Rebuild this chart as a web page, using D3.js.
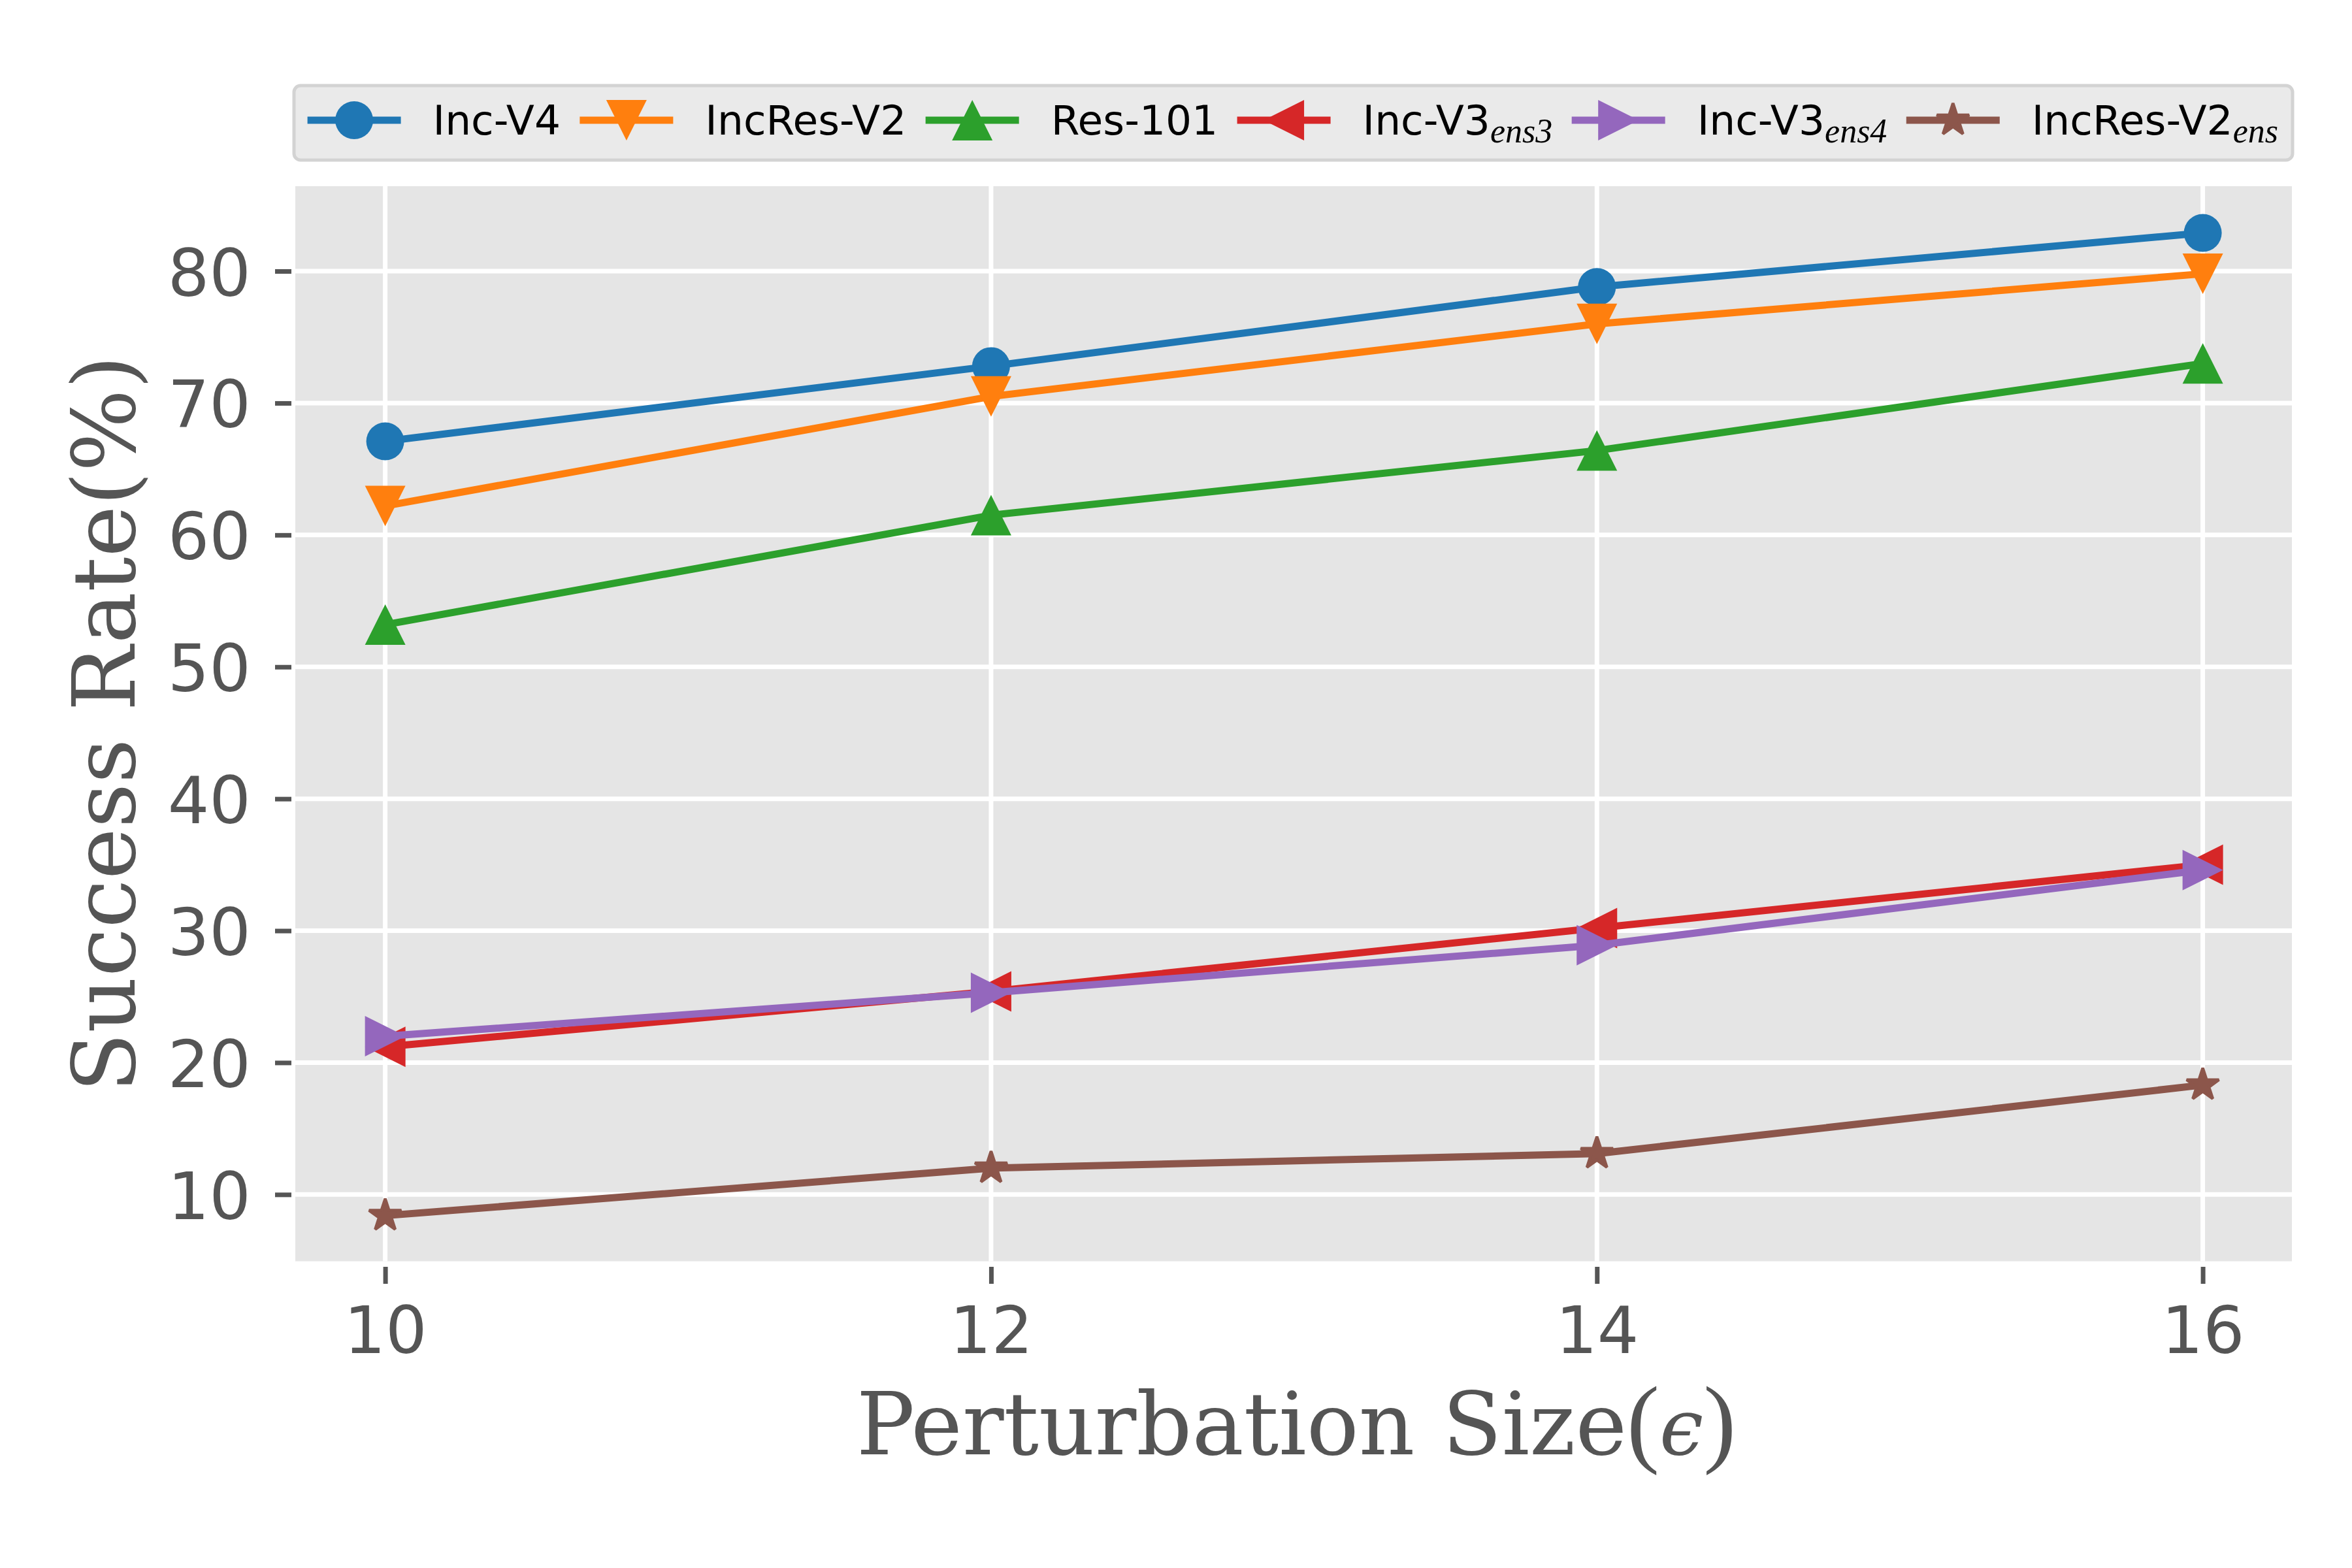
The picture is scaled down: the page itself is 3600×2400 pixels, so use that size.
<!DOCTYPE html>
<html><head><meta charset="utf-8">
<script src="https://cdn.jsdelivr.net/npm/d3@7"></script>
<style>html,body{margin:0;padding:0;background:#fff;} svg{display:block;}</style>
</head><body>
<svg id="chart" width="3600" height="2400"></svg>
<script>
// ---------------- data ----------------
const epsilons = [10, 12, 14, 16];
const seriesMain = ["Inc-V4", "IncRes-V2", "Res-101", "Inc-V3", "Inc-V3", "IncRes-V2"];
const seriesSub  = ["", "", "", "ens3", "ens4", "ens"];
const incV4      = [67.1, 72.8, 78.8, 82.9];
const incResV2   = [62.2, 70.5, 76.0, 79.8];
const res101     = [53.2, 61.5, 66.4, 73.0];
const incV3ens3  = [21.2, 25.4, 30.2, 35.0];
const incV3ens4  = [22.0, 25.3, 28.9, 34.6];
const incResV2ens= [8.4, 12.0, 13.1, 18.3];
const seriesValues = [incV4, incResV2, res101, incV3ens3, incV3ens4, incResV2ens];
const seriesColors = ["#1f77b4", "#ff7f0e", "#2ca02c", "#d62728", "#9467bd", "#8c564b"];
const seriesMarkers = ["circle", "down", "up", "left", "right", "star"];
const xTickValues = [10, 12, 14, 16];
const yTickValues = [10, 20, 30, 40, 50, 60, 70, 80];
const xDomain = [9.7, 16.3];
const yDomain = [4.94, 86.44];

// ---------------- layout ----------------
const svg = d3.select("#chart");
const plot = {left: 452, right: 3508, top: 285, bottom: 1930.5};
const x = d3.scaleLinear().domain(xDomain).range([450.5, 3510.7]);
const y = d3.scaleLinear().domain(yDomain).range([plot.bottom, plot.top]);
const tickColor = "#555555";

svg.append("rect").attr("x", 0).attr("y", 0).attr("width", 3600).attr("height", 2400).attr("fill", "#ffffff");
svg.append("rect").attr("x", plot.left).attr("y", plot.top)
  .attr("width", plot.right - plot.left).attr("height", plot.bottom - plot.top)
  .attr("fill", "#e5e5e5");

// grid
const grid = svg.append("g");
grid.selectAll("line.h").data(yTickValues).join("line")
  .attr("x1", plot.left).attr("x2", plot.right)
  .attr("y1", d => y(d)).attr("y2", d => y(d))
  .attr("stroke", "#ffffff").attr("stroke-width", 7);
grid.selectAll("line.v").data(xTickValues).join("line")
  .attr("y1", plot.top).attr("y2", plot.bottom)
  .attr("x1", d => x(d)).attr("x2", d => x(d))
  .attr("stroke", "#ffffff").attr("stroke-width", 7);

// axes via d3 axis generators (styled)
const yAxis = d3.axisLeft(y).tickValues(yTickValues).tickSize(25).tickPadding(37).tickFormat(d3.format("d"));
const yg = svg.append("g").attr("transform", `translate(${plot.left - 6},0)`).call(yAxis);
yg.select(".domain").remove();
yg.selectAll(".tick line").attr("stroke", tickColor).attr("stroke-width", 7);
yg.selectAll(".tick text").attr("fill", tickColor)
  .style("font-family", "'DejaVu Sans'").style("font-size", "100px")
  .attr("dy", null).attr("dominant-baseline", null).attr("y", 37);

const xAxis = d3.axisBottom(x).tickValues(xTickValues).tickSize(26).tickPadding(40).tickFormat(d3.format("d"));
const xg = svg.append("g").attr("transform", `translate(0,${plot.bottom + 8.5})`).call(xAxis);
xg.select(".domain").remove();
xg.selectAll(".tick line").attr("stroke", tickColor).attr("stroke-width", 7);
xg.selectAll(".tick text").attr("fill", tickColor)
  .style("font-family", "'DejaVu Sans'").style("font-size", "100px")
  .attr("dy", null).attr("y", 131.5);

// axis labels
const xl = svg.append("text").attr("x", (plot.left + plot.right) / 2 + 4).attr("y", 2226)
  .attr("text-anchor", "middle").attr("fill", tickColor)
  .style("font-family", "'DejaVu Serif'").style("font-size", "133px");
xl.append("tspan").text("Perturbation Size");
xl.append("tspan").text("(").style("font-family", "'Liberation Serif'").style("font-size", "150px");
xl.append("tspan").text("ϵ").style("font-style", "italic").style("font-size", "120px");
xl.append("tspan").text(")").style("font-family", "'Liberation Serif'").style("font-size", "150px");

svg.append("text").attr("transform", `translate(206,${(plot.top + plot.bottom) / 2}) rotate(-90)`)
  .attr("text-anchor", "middle").attr("fill", tickColor)
  .style("font-family", "'DejaVu Serif'").style("font-size", "133px")
  .text("Success Rate(%)");

// markers
function markerPath(type) {
  const s = 31;
  switch (type) {
    case "circle": { const r = 29; return `M${-r},0A${r},${r} 0 1,0 ${r},0A${r},${r} 0 1,0 ${-r},0Z`; }
    case "down": return `M0,${s}L${-s},${-s}L${s},${-s}Z`;
    case "up": return `M0,${-s}L${-s},${s}L${s},${s}Z`;
    case "left": return `M${-s},0L${s},${-s}L${s},${s}Z`;
    case "right": return `M${s},0L${-s},${-s}L${-s},${s}Z`;
    case "star": {
      const R = 26, ri = R * 0.381966;
      const pts = d3.range(10).map(i => {
        const rr = i % 2 === 0 ? R : ri;
        const a = -Math.PI / 2 + i * Math.PI / 5;
        return [rr * Math.cos(a), rr * Math.sin(a)];
      });
      return "M" + pts.map(p => p[0].toFixed(2) + "," + p[1].toFixed(2)).join("L") + "Z";
    }
  }
}
function styleMarker(sel, type, color) {
  sel.attr("fill", color);
  if (type === "star") {
    sel.attr("stroke", color).attr("stroke-width", 4.5)
      .attr("stroke-linejoin", "miter").attr("stroke-miterlimit", 1.6);
  }
}

const line = d3.line().x(d => x(d[0])).y(d => y(d[1]));
const lw = 11;
seriesValues.forEach((vals, i) => {
  const g = svg.append("g");
  const pts = epsilons.map((e, j) => [e, vals[j]]);
  g.append("path").attr("d", line(pts)).attr("fill", "none")
    .attr("stroke", seriesColors[i]).attr("stroke-width", lw)
    .attr("stroke-linejoin", "round").attr("stroke-linecap", "square");
  g.selectAll("path.m").data(pts).join("path")
    .attr("transform", d => `translate(${x(d[0])},${y(d[1])})`)
    .attr("d", markerPath(seriesMarkers[i]))
    .call(styleMarker, seriesMarkers[i], seriesColors[i]);
});

// legend
const legBox = {x: 450, y: 131, w: 3059, h: 114};
const leg = svg.append("g");
leg.append("rect").attr("x", legBox.x).attr("y", legBox.y).attr("width", legBox.w).attr("height", legBox.h)
  .attr("rx", 10).attr("ry", 10).attr("fill", "#eaeaea").attr("stroke", "#d3d3d3").attr("stroke-width", 5);
const handleLen = 143, handleGap = 49, legY = 184;
const entries = seriesMain.map((m, i) => {
  const g = leg.append("g");
  g.append("line").attr("x1", 0).attr("x2", handleLen).attr("y1", legY).attr("y2", legY)
    .attr("stroke", seriesColors[i]).attr("stroke-width", lw);
  g.append("path").attr("transform", `translate(${handleLen / 2},${legY})`)
    .attr("d", markerPath(seriesMarkers[i])).call(styleMarker, seriesMarkers[i], seriesColors[i]);
  const t = g.append("text").attr("x", handleLen + handleGap).attr("y", 206)
    .attr("fill", "#000").style("font-family", "'DejaVu Sans'").style("font-size", "63px");
  t.append("tspan").text(m);
  if (seriesSub[i]) {
    t.append("tspan").text(seriesSub[i]).attr("dy", 12)
      .style("font-family", "'Liberation Serif'").style("font-style", "italic").style("font-size", "52px");
  }
  const w = handleLen + handleGap + t.node().getBBox().width;
  return {g, w};
});
const padL = 20.6, padR = 22;
const totalW = d3.sum(entries, e => e.w);
const gap = (legBox.w - padL - padR - totalW) / (entries.length - 1);
let cx = legBox.x + padL;
entries.forEach(e => { e.g.attr("transform", `translate(${cx},0)`); cx += e.w + gap; });
</script>
</body></html>
